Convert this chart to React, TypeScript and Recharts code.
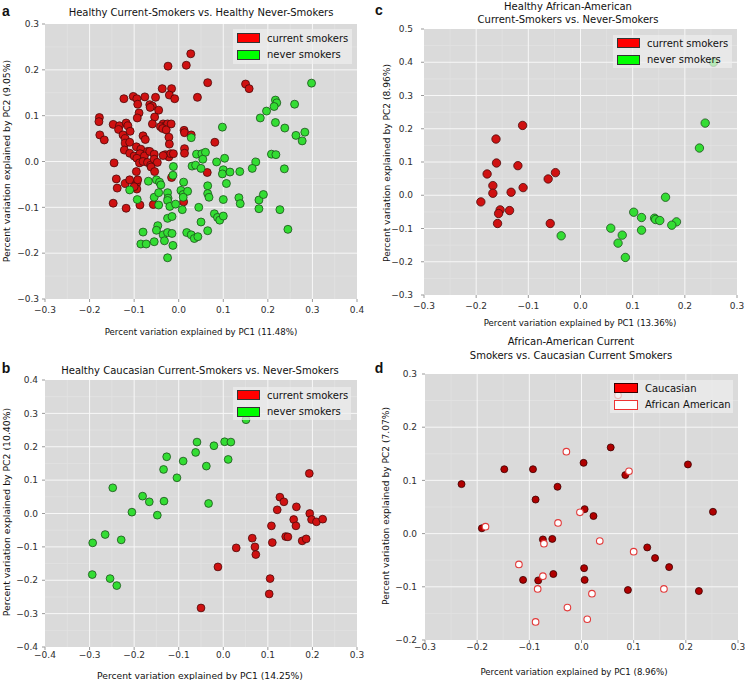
import React from 'react';
import { ScatterChart, Scatter, XAxis, YAxis, CartesianGrid } from 'recharts';

type Pt = [number, number];

// a: healthy current smokers vs never smokers
const aCurrent: Pt[] = [
  [0.027, 0.235], [-0.024, 0.208], [0.017, 0.21], [0.065, 0.172], [0.15, 0.169], [0.158, 0.159],
  [-0.037, 0.159], [-0.016, 0.159], [-0.021, 0.145], [-0.009, 0.137], [0.042, 0.14],
  [-0.123, 0.137], [-0.102, 0.142], [-0.094, 0.137], [-0.076, 0.141], [-0.052, 0.14],
  [-0.092, 0.125], [-0.065, 0.124], [-0.059, 0.121], [-0.064, 0.118], [-0.045, 0.112],
  [-0.178, 0.096], [-0.179, 0.087], [-0.089, 0.106], [-0.093, 0.095], [-0.054, 0.097],
  [-0.147, 0.081], [-0.133, 0.078], [-0.135, 0.07], [-0.118, 0.084], [-0.114, 0.078], [-0.109, 0.066],
  [-0.035, 0.082], [-0.03, 0.078], [-0.025, 0.082], [-0.041, 0.076], [-0.036, 0.072], [-0.028, 0.069],
  [-0.059, 0.082], [-0.017, 0.082],
  [-0.177, 0.058], [-0.167, 0.047], [-0.125, 0.058], [-0.12, 0.05], [-0.12, 0.04], [-0.11, 0.042],
  [-0.08, 0.056], [-0.075, 0.048], [-0.022, 0.053], [0.012, 0.068], [0.013, 0.063], [0.028, 0.058],
  [0.081, 0.042], [-0.021, 0.038],
  [-0.122, 0.025], [-0.11, 0.018], [-0.095, 0.032], [-0.085, 0.027], [-0.07, 0.022], [-0.1, 0.012],
  [-0.087, 0.017], [-0.077, 0.012], [-0.065, 0.022], [-0.055, 0.016], [0.013, 0.028], [0.013, 0.018],
  [-0.03, 0.015], [-0.022, 0.01], [-0.018, 0.017], [-0.012, 0.017],
  [-0.145, -0.003], [-0.094, 0.007], [-0.088, -0.003], [-0.08, 0.0], [-0.07, -0.002], [-0.063, -0.008],
  [-0.055, 0.005], [-0.048, -0.002], [-0.035, 0.013],
  [-0.095, -0.022], [-0.062, -0.012], [-0.054, -0.022], [-0.016, -0.035], [0.064, -0.024],
  [-0.14, -0.038], [-0.12, -0.048], [-0.11, -0.04], [-0.094, -0.047], [-0.092, -0.04],
  [-0.138, -0.058], [-0.094, -0.06], [-0.1, -0.055],
  [-0.147, -0.091], [-0.118, -0.102], [-0.087, -0.095], [-0.057, -0.094], [0.011, -0.088],
];
const aNever: Pt[] = [
  [0.298, 0.171], [0.217, 0.134], [0.22, 0.128], [0.214, 0.12], [0.26, 0.125], [0.197, 0.11], [0.183, 0.095],
  [0.098, 0.075], [0.217, 0.085], [0.238, 0.073], [0.263, 0.057], [0.283, 0.064], [0.277, 0.045],
  [0.028, 0.052], [0.04, 0.016], [0.052, 0.017], [0.06, 0.02], [0.054, 0.005], [0.103, 0.007],
  [0.208, 0.016], [0.218, 0.015], [0.173, -0.001], [0.165, -0.015], [0.237, -0.016],
  [0.085, -0.001], [0.1, -0.018], [0.098, -0.027], [0.115, -0.023], [0.137, -0.022],
  [0.03, -0.01], [0.038, -0.008], [0.05, -0.015], [-0.012, -0.011], [-0.013, -0.03],
  [-0.068, -0.043], [-0.05, -0.04], [-0.043, -0.045], [-0.04, -0.051], [0.011, -0.045], [0.107, -0.048], [0.065, -0.053],
  [-0.11, -0.062], [-0.055, -0.078], [-0.045, -0.068], [-0.025, -0.068], [0.005, -0.063], [0.01, -0.072],
  [0.02, -0.065], [0.065, -0.07], [0.068, -0.078],
  [-0.093, -0.083], [-0.024, -0.08], [-0.025, -0.085], [-0.02, -0.098], [0.01, -0.078],
  [-0.045, -0.095], [-0.007, -0.093], [0.045, -0.1], [0.008, -0.105], [0.1, -0.083], [0.135, -0.079],
  [0.138, -0.092], [0.18, -0.084], [0.19, -0.072], [0.18, -0.103], [0.227, -0.105],
  [0.08, -0.114], [0.087, -0.122], [0.092, -0.128], [0.1, -0.119], [0.05, -0.132], [-0.025, -0.124], [-0.015, -0.12],
  [-0.047, -0.14], [-0.05, -0.15], [-0.08, -0.154], [0.018, -0.155], [0.028, -0.16], [0.035, -0.168],
  [0.043, -0.164], [0.065, -0.151], [-0.035, -0.16], [-0.025, -0.155], [-0.015, -0.157],
  [-0.085, -0.18], [-0.073, -0.18], [-0.055, -0.175], [-0.032, -0.173], [-0.013, -0.183], [0.245, -0.148],
  [-0.025, -0.21],
];
const aXTicks = [-0.3, -0.2, -0.1, 0, 0.1, 0.2, 0.3, 0.4];
const aYTicks = [-0.3, -0.2, -0.1, 0, 0.1, 0.2, 0.3];

// b: caucasian
const bCurrent: Pt[] = [
  [0.193, 0.12], [0.127, 0.049], [0.136, 0.035], [0.164, 0.02], [0.121, 0.011],
  [0.194, 0.0], [0.198, -0.018], [0.209, -0.025], [0.223, -0.017], [0.158, -0.018],
  [0.163, -0.037], [0.108, -0.037], [0.14, -0.069], [0.145, -0.07], [0.11, -0.087],
  [0.177, -0.082], [0.186, -0.076], [0.065, -0.074], [0.071, -0.1], [0.073, -0.123],
  [0.029, -0.103], [-0.012, -0.16], [0.105, -0.195], [0.103, -0.241], [-0.05, -0.283],
];
const bNever: Pt[] = [
  [0.051, 0.281], [-0.059, 0.214], [0.003, 0.215], [0.017, 0.214], [-0.021, 0.203],
  [-0.062, 0.183], [-0.127, 0.17], [0.011, 0.162], [-0.09, 0.157], [-0.038, 0.142],
  [-0.134, 0.132], [-0.104, 0.107], [-0.248, 0.077], [-0.181, 0.052], [-0.166, 0.035],
  [-0.133, 0.037], [-0.033, 0.03], [-0.205, 0.004], [-0.148, -0.005], [-0.265, -0.063],
  [-0.293, -0.088], [-0.229, -0.079], [-0.294, -0.183], [-0.254, -0.195], [-0.239, -0.216],
];
const bXTicks = [-0.4, -0.3, -0.2, -0.1, 0, 0.1, 0.2, 0.3];
const bYTicks = [-0.4, -0.3, -0.2, -0.1, 0, 0.1, 0.2, 0.3, 0.4];

// c: african-american
const cCurrent: Pt[] = [
  [-0.111, 0.21], [-0.162, 0.169], [-0.161, 0.097], [-0.12, 0.089], [-0.179, 0.064],
  [-0.048, 0.068], [-0.062, 0.049], [-0.168, 0.029], [-0.11, 0.023], [-0.133, 0.009],
  [-0.168, 0.006], [-0.191, -0.02], [-0.154, -0.044], [-0.157, -0.055], [-0.136, -0.046],
  [-0.159, -0.085], [-0.058, -0.085],
];
const cNever: Pt[] = [
  [0.255, 0.4], [0.239, 0.217], [0.228, 0.142], [0.163, -0.006], [0.102, -0.051],
  [0.117, -0.067], [0.142, -0.069], [0.144, -0.073], [0.152, -0.076], [0.184, -0.08],
  [0.175, -0.09], [0.117, -0.105], [0.058, -0.099], [0.08, -0.12], [0.072, -0.144],
  [0.086, -0.187], [-0.037, -0.122],
];
const cXTicks = [-0.3, -0.2, -0.1, 0, 0.1, 0.2, 0.3];
const cYTicks = [-0.3, -0.2, -0.1, 0, 0.1, 0.2, 0.3, 0.4, 0.5];

// d: caucasian vs african-american current smokers
const dCaucasian: Pt[] = [
  [-0.23, 0.093], [-0.148, 0.121], [-0.093, 0.121], [0.004, 0.133], [0.056, 0.162],
  [0.084, 0.11], [0.204, 0.13], [-0.046, 0.088], [-0.088, 0.064], [0.006, 0.046],
  [0.023, 0.033], [0.252, 0.041], [-0.191, 0.01], [-0.074, -0.011], [-0.056, -0.01],
  [0.126, -0.026], [0.141, -0.046], [0.168, -0.063], [0.005, -0.065], [0.006, -0.087],
  [-0.112, -0.087], [-0.083, -0.088], [-0.054, -0.076], [0.089, -0.106], [0.225, -0.108],
];
const dAfricanAmerican: Pt[] = [
  [0.07, 0.26], [-0.029, 0.154], [0.091, 0.117], [-0.003, 0.04], [-0.045, 0.02],
  [-0.184, 0.013], [0.035, -0.014], [-0.072, -0.019], [0.1, -0.034], [-0.12, -0.058],
  [-0.074, -0.08], [-0.084, -0.104], [0.158, -0.104], [0.02, -0.113], [-0.027, -0.139],
  [0.011, -0.161], [-0.088, -0.166],
];
const dXTicks = [-0.3, -0.2, -0.1, 0, 0.1, 0.2, 0.3];
const dYTicks = [-0.2, -0.1, 0, 0.1, 0.2, 0.3];

const FONT = '"DejaVu Sans", sans-serif';
const BG = '#dadada';
const MINOR = '#e2e2e2';
const MAJOR = '#f7f7f7';
const RED = { fill: '#cf1111', stroke: '#4a0a0a' };
const GREEN = { fill: '#33dd33', stroke: '#1d4f1d' };

const fmt = (v: number) => {
  const s = Math.abs(v).toFixed(1);
  return v < -1e-9 ? '\u2212' + s : s;
};
const mids = (t: number[]) => t.slice(1).map((v, i) => (v + t[i]) / 2);
const toXY = (pts: Pt[]) => pts.map(([x, y]) => ({ x, y }));

interface Series {
  name: string;
  points: Pt[];
  fill: string;
  stroke: string;
  r: number;
  sw: number;
}

interface PanelProps {
  box: [number, number, number, number];
  top: number;
  right: number;
  yw: number;
  xh: number;
  xTicks: number[];
  yTicks: number[];
  yGap: number;
  xGap: number;
  series: Series[];
}

const tickStyle = { fontSize: 9, fill: '#2e2e2e', fontFamily: FONT };

const Panel = ({ box, top, right, yw, xh, xTicks, yTicks, yGap, xGap, series }: PanelProps) => (
  <div style={{ position: 'absolute', left: box[0], top: box[1] }}>
    <ScatterChart width={box[2]} height={box[3]} margin={{ top, right, left: 0, bottom: 0 }}>
      <CartesianGrid fill={BG} fillOpacity={1} stroke={MINOR} strokeWidth={0.8}
        horizontalValues={mids(yTicks)} verticalValues={mids(xTicks)} />
      <CartesianGrid stroke={MAJOR} strokeWidth={1}
        horizontalValues={yTicks.slice(1, -1)} verticalValues={xTicks.slice(1, -1)} />
      <XAxis type="number" dataKey="x" domain={[xTicks[0], xTicks[xTicks.length - 1]]} ticks={xTicks}
        interval={0} height={xh} axisLine={false} tickLine={{ stroke: '#999' }} tickSize={3}
        tickMargin={xGap} tick={tickStyle} tickFormatter={fmt} />
      <YAxis type="number" dataKey="y" domain={[yTicks[0], yTicks[yTicks.length - 1]]} ticks={yTicks}
        interval={0} width={yw} axisLine={false} tickLine={{ stroke: '#999' }} tickSize={3}
        tickMargin={yGap} tick={tickStyle} tickFormatter={fmt} />
      {series.map((s) => (
        <Scatter key={s.name} name={s.name} data={toXY(s.points)} isAnimationActive={false}
          shape={(p: any) => (
            <circle cx={p.cx} cy={p.cy} r={s.r} fill={s.fill} stroke={s.stroke} strokeWidth={s.sw} />
          )} />
      ))}
    </ScatterChart>
  </div>
);

const Txt = ({ x, y, size, children, rotate, bold, lh }: any) => (
  <div style={{
    position: 'absolute', left: x, top: y, whiteSpace: 'pre', textAlign: 'center',
    transform: `translate(-50%, -50%)${rotate ? ' rotate(-90deg)' : ''}`,
    fontSize: size, fontWeight: bold ? 'bold' : 'normal', lineHeight: lh ? `${lh}px` : 'normal',
    color: '#111', fontFamily: bold ? '"Liberation Sans", Arial, sans-serif' : FONT,
  }}>{children}</div>
);

interface LegendItem { label: string; fill: string; stroke: string; }

const Key = ({ x, y, w, h, items, pw }: { x: number; y: number; w: number; h: number; items: LegendItem[]; pw: number }) => (
  <div style={{
    position: 'absolute', left: x, top: y, width: w, height: h, background: 'rgba(238,238,238,0.7)',
    display: 'flex', flexDirection: 'column', justifyContent: 'center', fontFamily: FONT, fontSize: 10,
    color: '#111',
  }}>
    {items.map((it) => (
      <div key={it.label} style={{ display: 'flex', alignItems: 'center', height: 16.5, paddingLeft: 4 }}>
        <div style={{ width: pw, height: 8, background: it.fill, border: `1px solid ${it.stroke}`, marginRight: 7 }} />
        <span>{it.label}</span>
      </div>
    ))}
  </div>
);

const smokerKeys: LegendItem[] = [
  { label: 'current smokers', fill: '#ff0000', stroke: '#333' },
  { label: 'never smokers', fill: '#00ff00', stroke: '#333' },
];
const raceKeys: LegendItem[] = [
  { label: 'Caucasian', fill: '#ff0000', stroke: '#3a0000' },
  { label: 'African American', fill: '#ffffff', stroke: '#e33' },
];

export default function App() {
  return (
    <div style={{ position: 'absolute', left: 0, top: 0, width: 745, height: 680, background: '#fff', fontFamily: FONT }}>
      <Panel box={[0, 0, 370, 340]} top={24} right={13} yw={45} xh={41} xTicks={aXTicks} yTicks={aYTicks}
        yGap={3} xGap={5} series={[
          { name: 'current smokers', points: aCurrent, ...RED, r: 4, sw: 0.8 },
          { name: 'never smokers', points: aNever, ...GREEN, r: 4, sw: 0.8 },
        ]} />
      <Panel box={[370, 0, 375, 340]} top={29} right={8} yw={54} xh={45} xTicks={cXTicks} yTicks={cYTicks}
        yGap={8} xGap={5} series={[
          { name: 'current smokers', points: cCurrent, ...RED, r: 4.2, sw: 0.8 },
          { name: 'never smokers', points: cNever, ...GREEN, r: 4.2, sw: 0.8 },
        ]} />
      <Panel box={[0, 340, 370, 340]} top={40} right={13} yw={45} xh={33} xTicks={bXTicks} yTicks={bYTicks}
        yGap={4} xGap={2} series={[
          { name: 'current smokers', points: bCurrent, ...RED, r: 3.9, sw: 0.8 },
          { name: 'never smokers', points: bNever, ...GREEN, r: 3.9, sw: 0.8 },
        ]} />
      <Panel box={[370, 340, 375, 340]} top={34} right={7} yw={55} xh={40} xTicks={dXTicks} yTicks={dYTicks}
        yGap={5} xGap={1} series={[
          { name: 'Caucasian', points: dCaucasian, fill: '#b00000', stroke: '#3a0000', r: 3.5, sw: 0.8 },
          { name: 'African American', points: dAfricanAmerican, fill: '#ffffff', stroke: '#e23a3a', r: 3.3, sw: 1.1 },
        ]} />

      <Txt x={6} y={11} size={14} bold>a</Txt>
      <Txt x={379} y={10} size={14} bold>c</Txt>
      <Txt x={6} y={368} size={14} bold>b</Txt>
      <Txt x={379} y={368} size={14} bold>d</Txt>

      <Txt x={201} y={12} size={10}>Healthy Current-Smokers vs. Healthy Never-Smokers</Txt>
      <Txt x={568} y={12.5} size={10} lh={13.3}>{'Healthy African-American\nCurrent-Smokers vs. Never-Smokers'}</Txt>
      <Txt x={200} y={370} size={10}>Healthy Caucasian Current-Smokers vs. Never-Smokers</Txt>
      <Txt x={571} y={348.5} size={10} lh={14}>{'African-American Current\nSmokers vs. Caucasian Current Smokers'}</Txt>

      <Txt x={201} y={332} size={8.6}>Percent variation explained by PC1 (11.48%)</Txt>
      <Txt x={580} y={323} size={8.6}>Percent variation explained by PC1 (13.36%)</Txt>
      <Txt x={200} y={675} size={9.2}>Percent variation explained by PC1 (14.25%)</Txt>
      <Txt x={574} y={672} size={8.6}>Percent variation explained by PC1 (8.96%)</Txt>

      <Txt x={6} y={161} size={9.3} rotate>Percent variation explained by PC2 (9.05%)</Txt>
      <Txt x={387} y={163} size={9.1} rotate>Percent variation explained by PC2 (8.96%)</Txt>
      <Txt x={6} y={512} size={9.3} rotate>Percent variation explained by PC2 (10.40%)</Txt>
      <Txt x={386} y={506} size={9.1} rotate>Percent variation explained by PC2 (7.07%)</Txt>

      <Key x={233} y={29} w={119} h={35} items={smokerKeys} pw={21} />
      <Key x={613} y={35} w={119} h={33} items={smokerKeys} pw={21} />
      <Key x={233} y={387} w={118} h={33} items={smokerKeys} pw={21} />
      <Key x={610} y={380} w={123} h={33} items={raceKeys} pw={22} />
    </div>
  );
}
